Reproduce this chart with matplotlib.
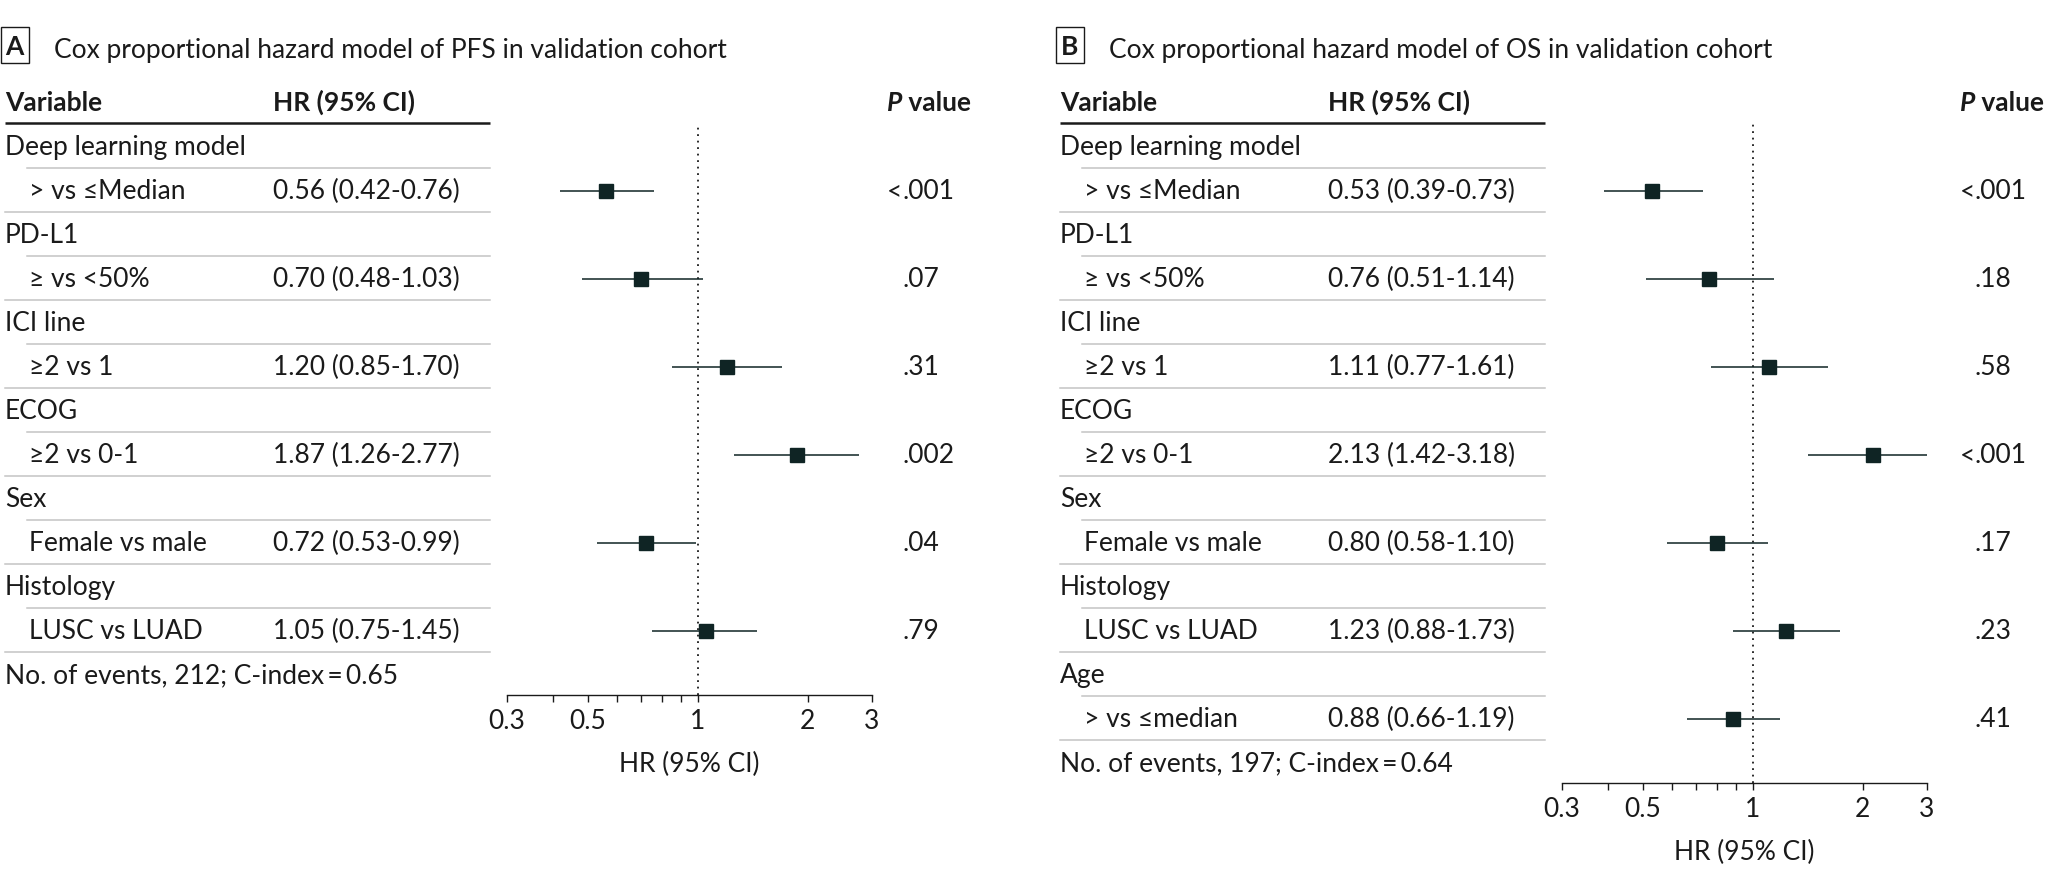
import matplotlib
matplotlib.use("Agg")
import matplotlib.pyplot as plt
from matplotlib.patches import Rectangle
from matplotlib.ticker import FixedLocator, FixedFormatter, NullFormatter

plt.rcParams["font.family"] = ["Lato", "DejaVu Sans"]

# ---- data: PFS model (panel A) ----
pfs_groups = ["Deep learning model", "PD-L1", "ICI line", "ECOG", "Sex", "Histology"]
pfs_levels = ["> vs ≤Median", "≥ vs <50%", "≥2 vs 1", "≥2 vs 0-1", "Female vs male", "LUSC vs LUAD"]
pfs_hr = [0.56, 0.70, 1.20, 1.87, 0.72, 1.05]
pfs_lo = [0.42, 0.48, 0.85, 1.26, 0.53, 0.75]
pfs_hi = [0.76, 1.03, 1.70, 2.77, 0.99, 1.45]
pfs_p = ["<.001", ".07", ".31", ".002", ".04", ".79"]
pfs_note = "No. of events, 212; C-index\u2009=\u20090.65"

# ---- data: OS model (panel B) ----
os_groups = ["Deep learning model", "PD-L1", "ICI line", "ECOG", "Sex", "Histology", "Age"]
os_levels = ["> vs ≤Median", "≥ vs <50%", "≥2 vs 1", "≥2 vs 0-1", "Female vs male", "LUSC vs LUAD", "> vs ≤median"]
os_hr = [0.53, 0.76, 1.11, 2.13, 0.80, 1.23, 0.88]
os_lo = [0.39, 0.51, 0.77, 1.42, 0.58, 0.88, 0.66]
os_hi = [0.73, 1.14, 1.61, 3.18, 1.10, 1.73, 1.19]
os_p = ["<.001", ".18", ".58", "<.001", ".17", ".23", ".41"]
os_note = "No. of events, 197; C-index\u2009=\u20090.64"

major_ticks = [0.3, 0.5, 1, 2, 3]
major_labels = ["0.3", "0.5", "1", "2", "3"]
minor_ticks = [0.4, 0.6, 0.7, 0.8, 0.9]

W, H = 2048, 886
FS = 19
INK = "#1a1a1a"
MARK = "#0f2424"
GRID = "#c4c4c4"

fig = plt.figure(figsize=(W / 100, H / 100), dpi=100)
bg = fig.add_axes([0, 0, 1, 1])
bg.set_xlim(0, W)
bg.set_ylim(H, 0)
bg.axis("off")


def row_y(k):
    return 147 + 44 * k


def draw_panel(x0, dot_x, letter, title, groups, levels, hr, lo, hi, pvals, note):
    right = x0 + 485
    # panel letter + title
    bg.add_patch(Rectangle((x0 - 4.3, 27), 28, 36, fill=False, lw=1.0, ec=INK))
    bg.text(x0 + 9.7, 55, letter, fontsize=FS, weight="bold", ha="center", va="baseline", color=INK)
    bg.text(x0 + 49, 58, title, fontsize=FS, va="baseline", color=INK)

    # header
    bg.text(x0, 111, "Variable", fontsize=FS, weight="bold", va="baseline", color=INK)
    bg.text(x0 + 268, 111, "HR (95% CI)", fontsize=FS, weight="bold", va="baseline", color=INK)
    ph = bg.text(dot_x - 15, 111, "P", fontsize=FS, weight="bold", style="italic", va="baseline", color=INK)
    bg.annotate(" value", xy=(1, 0), xycoords=ph, fontsize=FS, weight="bold", va="bottom", ha="left", color=INK)
    bg.plot([x0, right], [123, 123], color=INK, lw=1.8, solid_capstyle="butt")

    for i in range(len(groups)):
        yc = row_y(2 * i)
        ys = row_y(2 * i + 1)
        bg.text(x0, yc + 8, groups[i], fontsize=FS, va="baseline", color=INK)
        bg.plot([x0 + 22, right], [yc + 21, yc + 21], color=GRID, lw=1.1)
        bg.text(x0 + 24, ys + 8, levels[i], fontsize=FS, va="baseline", color=INK)
        bg.text(x0 + 268, ys + 8, f"{hr[i]:.2f} ({lo[i]:.2f}-{hi[i]:.2f})", fontsize=FS, va="baseline", color=INK)
        p = pvals[i]
        cut = p.index(".")
        if cut > 0:
            bg.text(dot_x, ys + 8, p[:cut], fontsize=FS, va="baseline", ha="right", color=INK)
        bg.text(dot_x, ys + 8, p[cut:], fontsize=FS, va="baseline", ha="left", color=INK)
        bg.plot([x0, right], [ys + 21, ys + 21], color=GRID, lw=1.1)

    ynote = row_y(2 * len(groups))
    bg.text(x0, ynote + 8, note, fontsize=FS, va="baseline", color=INK)

    # forest plot
    axis_y = ynote + 20
    fl = x0 + 502
    ax = fig.add_axes([fl / W, 1 - axis_y / H, 365 / W, (axis_y - 123) / H])
    ax.set_xscale("log")
    ax.set_xlim(0.3, 3)
    ax.set_ylim(axis_y, 123)
    ax.patch.set_visible(False)
    yrows = [row_y(2 * i + 1) for i in range(len(groups))]
    ax.axvline(1, color=INK, lw=1.3, ls=(0, (1, 2.6)), zorder=1)
    ax.hlines(yrows, lo, hi, color=MARK, lw=1.1, zorder=2)
    ax.plot(hr, yrows, "s", ms=9.5, color=MARK, mec=MARK, zorder=3)
    for s in ["left", "right", "top"]:
        ax.spines[s].set_visible(False)
    ax.spines["bottom"].set_linewidth(1.0)
    ax.spines["bottom"].set_color(INK)
    ax.xaxis.set_major_locator(FixedLocator(major_ticks))
    ax.xaxis.set_major_formatter(FixedFormatter(major_labels))
    ax.xaxis.set_minor_locator(FixedLocator(minor_ticks))
    ax.xaxis.set_minor_formatter(NullFormatter())
    ax.tick_params(axis="x", which="both", direction="out", length=5, width=1.0,
                   pad=5, labelsize=FS, colors=INK)
    ax.set_yticks([])
    ax.set_xlabel("HR (95% CI)", fontsize=FS, color=INK, labelpad=13)


draw_panel(5, 902, "A", "Cox proportional hazard model of PFS in validation cohort",
           pfs_groups, pfs_levels, pfs_hr, pfs_lo, pfs_hi, pfs_p, pfs_note)
draw_panel(1060, 1975, "B", "Cox proportional hazard model of OS in validation cohort",
           os_groups, os_levels, os_hr, os_lo, os_hi, os_p, os_note)

fig.savefig("out.png", dpi=100)
